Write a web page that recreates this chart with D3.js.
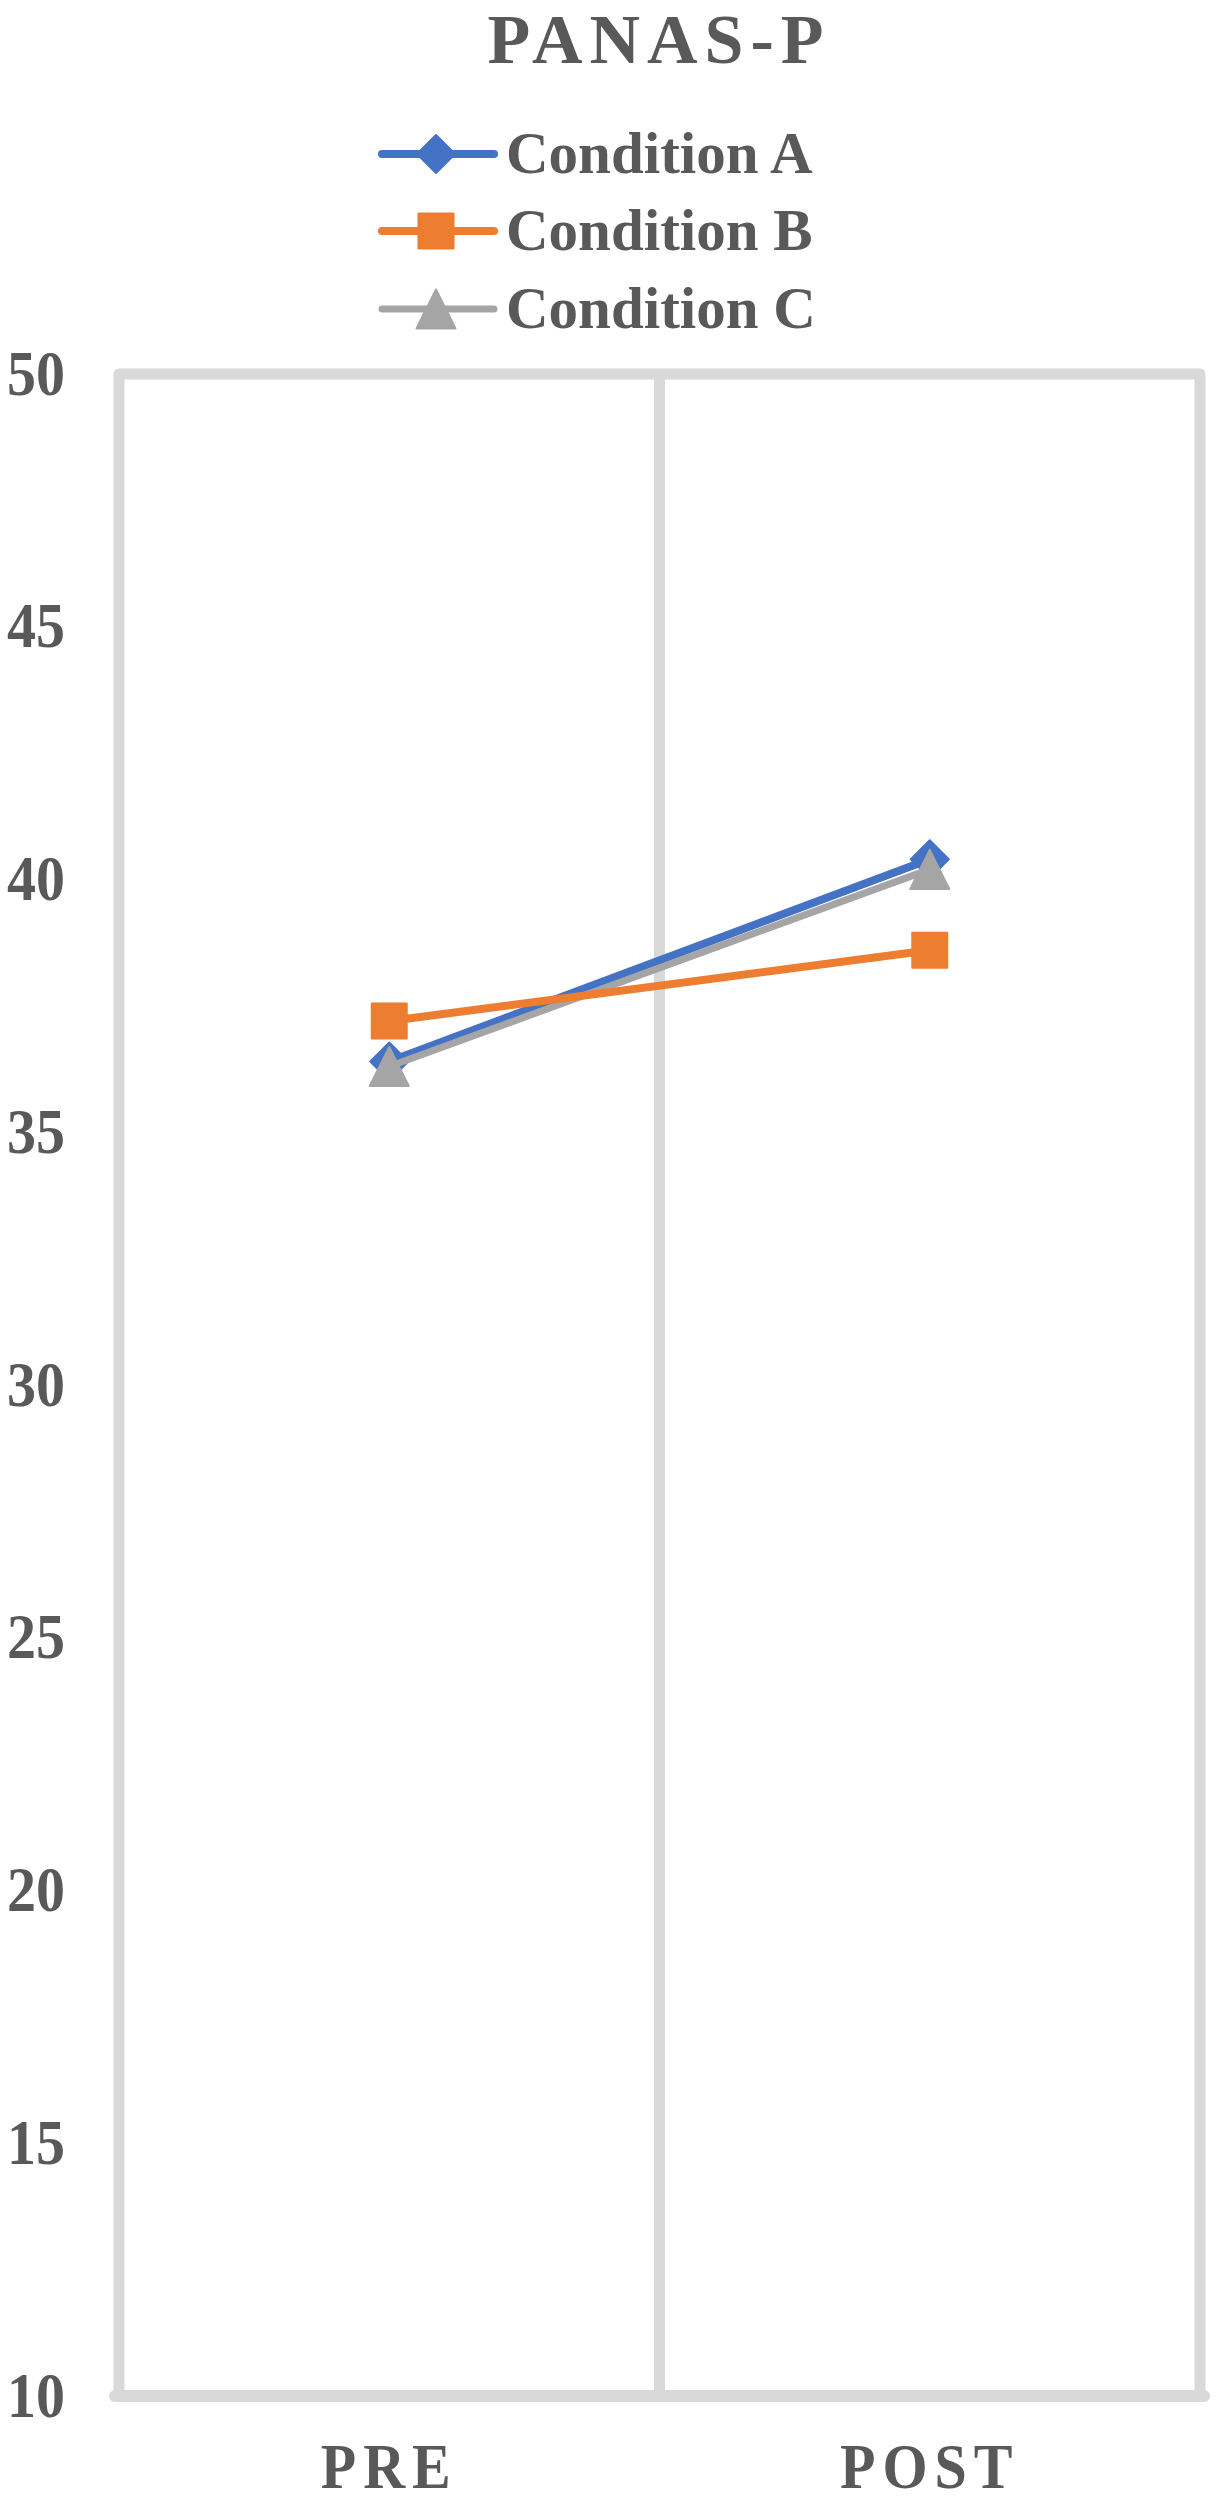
<!DOCTYPE html>
<html lang="en">
<head>
  <meta charset="UTF-8">
  <title>PANAS-P</title>
  <script src="https://d3js.org/d3.v7.min.js"></script>
  <style>
    body, html {
      margin: 0;
      padding: 0;
      background: #ffffff;
    }

    svg {
      display: block;
      font-family: "Liberation Serif", "Times New Roman", serif;
      font-weight: bold;
    }

    .frame {
      fill: none;
      stroke: #d9d9d9;
      stroke-width: 11px;
      stroke-linejoin: round;
    }

    .label {
      fill: #595959;
    }
  </style>
</head>
<body>
  <svg id="chart"></svg>

  <script>
    // chart values
    const categories = ["PRE", "POST"];
    const seriesNames = ["Condition A", "Condition B", "Condition C"];
    const conditionA = [36.4, 40.4];
    const conditionB = [37.2, 38.6];
    const conditionC = [36.3, 40.2];
    const yTicks = [10, 15, 20, 25, 30, 35, 40, 45, 50];
    const chartTitle = "PANAS-P";

    const width = 1222;
    const height = 2500;
    const plot = { left: 119, right: 1200, top: 374, bottom: 2396 };
    const stretch = 1.08; // the source text is a little taller than wide

    const colors = ["#4472c4", "#ed7d31", "#a5a5a5"];
    const textColor = "#595959";

    const svg = d3.select("#chart")
      .attr("width", width)
      .attr("height", height);

    const x = d3.scaleBand()
      .domain(categories)
      .range([plot.left, plot.right])
      .padding(0);

    const y = d3.scaleLinear()
      .domain([10, 50])
      .range([plot.bottom, plot.top]);

    const xCenter = d => x(d) + x.bandwidth() / 2;

    // Excel-like marker shapes, size = box area
    const diamond = {
      draw(ctx, size) {
        const r = Math.sqrt(size) / 2;
        ctx.moveTo(0, -r);
        ctx.lineTo(r, 0);
        ctx.lineTo(0, r);
        ctx.lineTo(-r, 0);
        ctx.closePath();
      }
    };
    const square = {
      draw(ctx, size) {
        const r = Math.sqrt(size) / 2;
        ctx.rect(-r, -r, 2 * r, 2 * r);
      }
    };
    const triangle = {
      draw(ctx, size) {
        const r = Math.sqrt(size) / 2;
        ctx.moveTo(0, -r);
        ctx.lineTo(r, r);
        ctx.lineTo(-r, r);
        ctx.closePath();
      }
    };

    const series = [
      { name: seriesNames[0], values: conditionA, color: colors[0], shape: diamond, size: 38 * 38, lw: 8 },
      { name: seriesNames[1], values: conditionB, color: colors[1], shape: square, size: 35 * 35, lw: 8 },
      { name: seriesNames[2], values: conditionC, color: colors[2], shape: triangle, size: 39 * 39, lw: 7 }
    ];

    // plot area frame + category divider
    svg.append("rect")
      .attr("class", "frame")
      .attr("x", plot.left)
      .attr("y", plot.top)
      .attr("width", plot.right - plot.left)
      .attr("height", plot.bottom - plot.top);

    svg.append("line")
      .attr("class", "frame")
      .attr("x1", x(categories[1]))
      .attr("x2", x(categories[1]))
      .attr("y1", plot.top)
      .attr("y2", plot.bottom);

    // bottom axis line, a bit heavier
    svg.append("line")
      .attr("stroke", "#d9d9d9")
      .attr("stroke-width", 12)
      .attr("stroke-linecap", "round")
      .attr("x1", plot.left - 4)
      .attr("x2", plot.right + 4)
      .attr("y1", plot.bottom)
      .attr("y2", plot.bottom);

    // y axis labels
    const yAxis = svg.append("g")
      .attr("transform", "translate(68,0)")
      .call(d3.axisLeft(y).tickValues(yTicks).tickSize(0).tickPadding(3).tickFormat(d3.format("d")));
    yAxis.select(".domain").remove();
    yAxis.selectAll("text")
      .attr("fill", textColor)
      .attr("font-size", 58)
      .attr("font-family", "Liberation Serif, Times New Roman, serif")
      .attr("font-weight", "bold")
      .attr("transform", `scale(1,${stretch})`);

    // x axis labels
    const xAxis = svg.append("g")
      .attr("transform", `translate(0,${plot.bottom})`)
      .call(d3.axisBottom(x).tickSize(0).tickPadding(44));
    xAxis.select(".domain").remove();
    xAxis.selectAll("text")
      .attr("fill", textColor)
      .attr("font-size", 58)
      .attr("letter-spacing", 7)
      .attr("font-family", "Liberation Serif, Times New Roman, serif")
      .attr("font-weight", "bold")
      .attr("transform", `scale(1,${stretch})`);

    // lines and markers: A, then C, then B on top
    const drawOrder = [0, 2, 1];
    const line = d3.line()
      .x((d, i) => xCenter(categories[i]))
      .y(d => y(d));

    drawOrder.forEach(k => {
      const s = series[k];
      svg.append("path")
        .datum(s.values)
        .attr("fill", "none")
        .attr("stroke", s.color)
        .attr("stroke-width", s.lw)
        .attr("stroke-linecap", "round")
        .attr("stroke-linejoin", "round")
        .attr("d", line);

      svg.selectAll(null)
        .data(s.values)
        .join("path")
        .attr("transform", (d, i) => `translate(${xCenter(categories[i])},${y(d)})`)
        .attr("d", d3.symbol().type(s.shape).size(s.size))
        .attr("fill", s.color)
        .attr("stroke", s.color)
        .attr("stroke-width", 2)
        .attr("stroke-linejoin", "round");
    });

    // title
    svg.append("text")
      .attr("class", "label")
      .attr("x", 659)
      .attr("y", 63)
      .attr("text-anchor", "middle")
      .attr("font-size", 70)
      .attr("letter-spacing", 7)
      .text(chartTitle);

    // legend
    const legendRowY = [154, 231, 309];
    const legend = svg.append("g");
    series.forEach((s, i) => {
      const g = legend.append("g")
        .attr("transform", `translate(0,${legendRowY[i]})`);
      g.append("line")
        .attr("x1", 382)
        .attr("x2", 494)
        .attr("stroke", s.color)
        .attr("stroke-width", s.lw)
        .attr("stroke-linecap", "round");
      g.append("path")
        .attr("transform", "translate(436,0)")
        .attr("d", d3.symbol().type(s.shape).size(s.size))
        .attr("fill", s.color)
        .attr("stroke", s.color)
        .attr("stroke-width", 2)
        .attr("stroke-linejoin", "round");
      g.append("text")
        .attr("class", "label")
        .attr("x", 506)
        .attr("y", 19)
        .attr("font-size", 59)
        .text(s.name);
    });
  </script>
</body>
</html>
